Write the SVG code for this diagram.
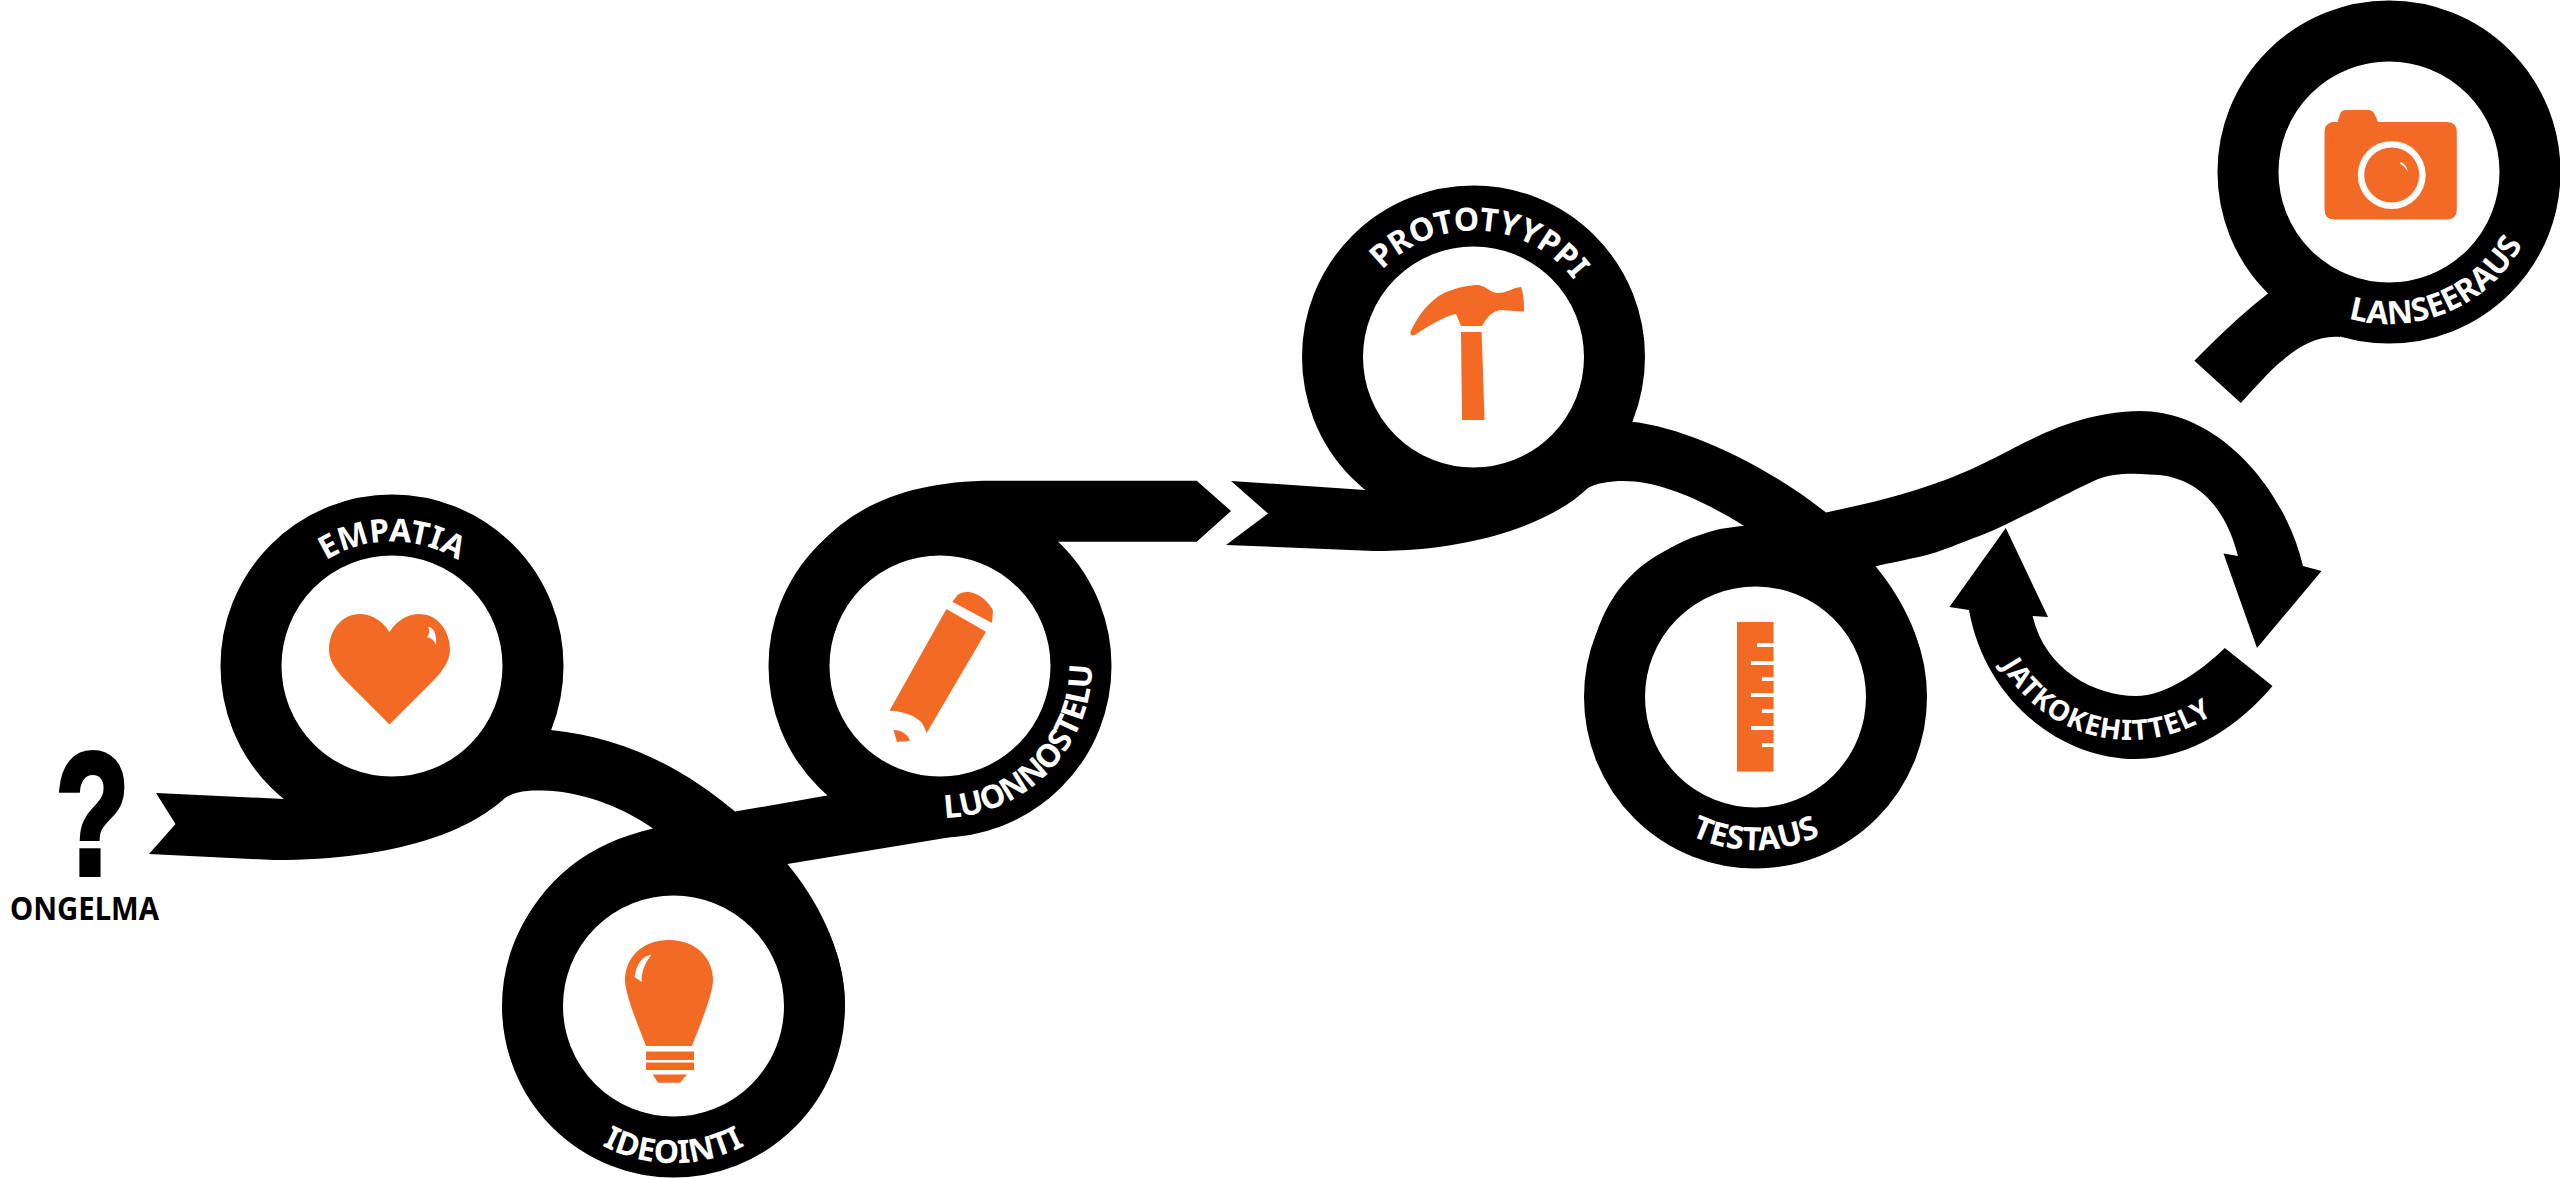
<svg xmlns="http://www.w3.org/2000/svg" xmlns:xlink="http://www.w3.org/1999/xlink" width="2560" height="1178" viewBox="0 0 2560 1178">
<style>
.ring{fill:#fff;stroke:#000;stroke-width:61}
.ico{fill:#F36A25}
.hi{fill:#fff}
.band{fill:#000}
.lab{font-family:"Noto Sans","Liberation Sans",sans-serif;font-weight:700;font-size:32px;fill:#fff;text-anchor:middle}
.blk{font-family:"Noto Sans","Liberation Sans",sans-serif;font-weight:700;fill:#000}
</style>
<defs>
<path id="a1" d="M288,598 A124,124 0 0 1 496,598"/>
<path id="a2" d="M539,1082 A152,152 0 0 0 808,1082"/>
<path id="a3" d="M878.2,804.9 A152,152 0 0 0 1076.6,599.4"/>
<path id="a4" d="M1373,281 A126,126 0 0 1 1582,292"/>
<path id="a5" d="M1620,767 A152,152 0 0 0 1891,767"/>
<path id="a6" d="M2297.5,293.4 A152,152 0 0 0 2539.9,190.5"/>
<path id="a7" d="M1985.2,622.8 A148,148 0 0 0 2246.6,683"/>
</defs>
<rect width="2560" height="1178" fill="#fff"/>
<g id="connectors" class="band">
<path d="M156,793 L284,799 L400,700 L551,730 C620,737 680,765 735,811.6 L827,795.6 L900,720 L957.5,836 L787.4,864 C815,897 845,950 845,1005 L700,1000 L515.6,941 C541.6,878 590,843 653,828.6 C620,805 575,790 540,790.6 C525,790 512,793 505,798 C470,830 400,860 274,860 L149,854 L175.5,824 Z"/>
<path d="M940,666 L785,600 C818,522 885,480.7 993,480.7 L1196.7,480.7 L1231,511 L1196.7,541.7 L1058,541.7 Z"/>
<path d="M1231,481 L1365,490 L1473,400 L1632,421.7 C1690,428 1770,468 1826,512.6 C1860,505 1900,497 1945,480 C1985,465 2010,449 2032,439 C2060,425 2100,411 2140,411 C2220,411 2285,490 2303,566 L2321.5,571 L2257,648 L2223.5,553.6 L2238,556 C2225,505 2195,474.5 2149,474.5 C2128,473 2112,474 2097,479.6 C2080,487 2060,498 2040.5,507.6 C2020,517 2000,528 1980,535.7 C1960,543 1940,552 1923,556 C1905,560 1890,563 1875.6,566.3 C1903,600 1926,642 1926,697 L1755,697 L1597,632 C1620,565 1672,538 1745,526.4 C1710,505 1665,481 1623,481 C1610,481 1597,483 1588,488 C1555,520 1480,551 1374,551 L1226,545 L1268,513.5 Z"/>
<path d="M2005.8,528 L2048,617 L2032.6,616 C2045,670 2095,696 2136,696 C2165,696 2200,672 2224.8,648 L2272.5,686 C2240,725 2190,759 2136,759 C2060,759 1985,700 1969,610 L1949.4,607 Z"/>
<path d="M2194.4,360.7 C2215,340 2240,315 2268,293.4 L2389,172 L2340,337 C2320,335 2300,345 2283,360 C2270,370 2255,388 2240.8,403 Z"/>
</g>
<g id="ongelma">
<text class="blk" font-size="172" text-anchor="middle" transform="translate(92.5,874) scale(.7,1)" stroke="#000" stroke-width="6" style="font-family:'Liberation Sans',sans-serif">?</text>
<text class="blk" x="10" y="920" font-size="33" textLength="149" lengthAdjust="spacingAndGlyphs">ONGELMA</text>
</g>
<g id="empatia">
<circle class="ring" cx="392" cy="666" r="141"/>
<path class="ico" d="M389.5,632 C381,618 368,614 360,614 C342,614 329,630 329,650 C329,662 338,672 345,680 L389.5,724.6 L434,680 C441,672 450,662 450,650 C450,630 437,614 419,614 C411,614 398,618 389.5,632 Z"/>
<path class="hi" d="M428,627 C434,627 437,635 436,645 C434,640 431,638 427,637 C430,634 430,630 428,627 Z"/>
<text class="lab"><textPath xlink:href="#a1" href="#a1" startOffset="50%">EMPATIA</textPath></text>
</g>
<g id="ideointi">
<circle class="ring" cx="673.5" cy="1006" r="141"/>
<path class="ico" d="M669,940 C640,940 625,960 625,980 C625,995 640,1030 646,1046 L692,1046 C698,1030 713,995 713,980 C713,960 698,940 669,940 Z"/>
<path class="ico" d="M646,1051.6 H694 V1060 H646 Z M646,1062.6 H694 V1070 H646 Z M652.8,1074.5 H687 L680,1082.7 H658 Z"/>
<path class="hi" d="M651.6,954.5 C642,956 636,965 634.6,977 L641.8,982 C641,972 645,963 651.6,954.5 Z"/>
<text class="lab"><textPath xlink:href="#a2" href="#a2" startOffset="50%">IDEOINTI</textPath></text>
</g>
<g id="luonnostelu">
<circle class="ring" cx="940" cy="666" r="141"/>
<path class="ico" d="M946.4,609 L986,631.7 L926.6,733 C925,728 923,725 922,723 C917,717 905,711 889.5,710.7 Z"/>
<path class="ico" d="M952.3,601.7 L957.5,595 C962,592 965,592 969,592 C976,593 982,597 985,600 C991,606 993,610 993,611.7 L992,623 Z"/>
<path class="ico" d="M893.4,730 C898,730 901,731 904,733 C907,735 909,738 910,740.7 L897,742 Z"/>
<text class="lab" letter-spacing="-0.5"><textPath xlink:href="#a3" href="#a3" startOffset="50%">LUONNOSTELU</textPath></text>
</g>
<g id="prototyyppi">
<circle class="ring" cx="1473.5" cy="357" r="141"/>
<path class="ico" d="M1461,332 H1481.6 L1484.6,420 H1462 Z"/>
<path class="ico" d="M1410.4,332 C1418,315 1430,300 1444,293 C1458,287 1470,285 1478.6,285 C1488,287 1490,293 1498.5,293 C1507,293 1512,288 1521,287 C1524,295 1524,303 1524,311.5 C1517,311 1510,311 1503.5,310 C1495,309 1487,316 1482,326 H1461 L1456,314 C1445,316 1428,326 1415,335 C1412,336 1410,335 1410.4,332 Z"/>
<text class="lab"><textPath xlink:href="#a4" href="#a4" startOffset="50%">PROTOTYYPPI</textPath></text>
</g>
<g id="testaus">
<circle class="ring" cx="1755.5" cy="697" r="141"/>
<rect class="ico" x="1737" y="622" width="36.6" height="149.6"/>
<path class="hi" d="M1757,643 H1774 V647 H1757 Z M1751,661 H1774 V665 H1751 Z M1762,677 H1774 V681 H1762 Z M1751,693 H1774 V697 H1751 Z M1762,709 H1774 V713 H1762 Z M1751,726 H1774 V730 H1751 Z M1762,743 H1774 V747 H1762 Z"/>
<text class="lab"><textPath xlink:href="#a5" href="#a5" startOffset="50%">TESTAUS</textPath></text>
</g>
<g id="jatkokehittely">
<text class="lab" style="font-size:28px" letter-spacing="1"><textPath xlink:href="#a7" href="#a7" startOffset="50%">JATKOKEHITTELY</textPath></text>
</g>
<g id="lanseeraus">
<circle class="ring" cx="2389" cy="172" r="141"/>
<path class="ico" d="M2332,122 H2337.5 L2339.7,115 Q2341,110 2346,110 H2368 Q2373,110 2375,115 L2378,122 H2447 Q2456.8,122 2456.8,132 V209 Q2456.8,219.4 2447,219.4 H2334 Q2324.5,219.4 2324.5,209 V132 Q2324.5,124 2332,122 Z"/>
<circle cx="2391.7" cy="175" r="34" fill="#fff"/>
<circle class="ico" cx="2391.7" cy="175" r="27.5"/>
<path class="hi" d="M2401,162 C2405,164 2407,167 2408,172 C2406,168 2403,165 2400,164 Z"/>
<text class="lab"><textPath xlink:href="#a6" href="#a6" startOffset="50%">LANSEERAUS</textPath></text>
</g>
</svg>
